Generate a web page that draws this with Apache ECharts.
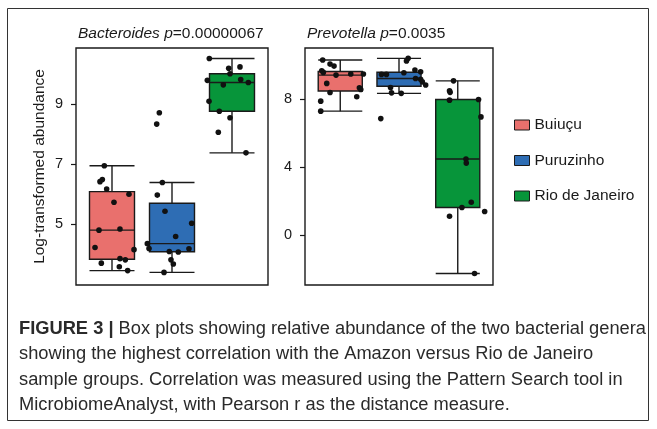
<!DOCTYPE html>
<html>
<head>
<meta charset="utf-8">
<script src="https://cdn.jsdelivr.net/npm/echarts@6/dist/echarts.min.js"></script>
<style>
html,body{margin:0;padding:0;background:#fff;}
#chart{width:657px;height:429px;}
</style>
</head>
<body>
<div id="chart"></div>
<script>
// ---------- data ----------
const groups = ['Buiuçu', 'Puruzinho', 'Rio de Janeiro'];
const panelTitles = ['Bacteroides', 'Prevotella'];
const pValues = ['0.00000067', '0.0035'];
const yAxisName = 'Log-transformed abundance';
const bacteroidesTicks = [5, 7, 9];
const prevotellaTicks = [0, 4, 8];

// Bacteroides values per group (and horizontal jitter offsets)
const bacBuiucu = [6.94, 6.41, 6.48, 6.16, 5.99, 5.72, 4.79, 4.83, 4.21, 4.14, 3.84, 3.80, 3.69, 3.57, 3.44];
const bacBuiucuJit = [-0.128, -0.20, -0.161, -0.089, 0.283, 0.033, -0.217, 0.133, -0.283, 0.367, 0.133, 0.222, -0.178, 0.122, 0.261];
const bacPuruzinho = [8.71, 8.33, 6.38, 5.96, 5.42, 5.02, 4.58, 4.34, 4.18, 4.08, 4.06, 4.17, 3.80, 3.66, 3.38];
const bacPuruzinhoJit = [-0.211, -0.255, -0.161, -0.245, -0.117, 0.328, 0.061, -0.411, -0.383, -0.045, 0.105, 0.283, -0.017, 0.022, -0.133];
const bacRio = [10.52, 10.19, 10.24, 10.01, 9.79, 9.82, 9.72, 9.64, 9.09, 8.76, 8.54, 8.06, 7.37];
const bacRioJit = [-0.378, -0.055, 0.133, -0.033, -0.411, 0.145, 0.272, -0.145, -0.383, -0.211, -0.033, -0.228, 0.233];

// Prevotella values per group
const prevBuiucu = [10.33, 10.09, 9.97, 9.70, 9.60, 9.44, 9.50, 9.50, 8.95, 8.41, 8.69, 8.59, 8.16, 7.90, 7.31];
const prevBuiucuJit = [-0.299, -0.174, -0.106, -0.315, -0.288, -0.072, 0.179, 0.394, -0.230, -0.174, 0.326, 0.349, 0.281, -0.332, -0.332];
const prevPuruzinho = [10.43, 10.27, 9.58, 9.74, 9.64, 9.48, 9.48, 9.24, 9.19, 9.04, 8.85, 8.71, 8.39, 8.36, 6.87];
const prevPuruzinhoJit = [0.156, 0.127, 0.083, 0.271, 0.368, -0.299, -0.214, 0.282, 0.368, 0.397, 0.454, -0.144, -0.127, 0.038, -0.310];
const prevRio = [9.10, 8.51, 8.42, 7.96, 8.00, 6.97, 4.48, 4.24, 1.93, 1.62, 1.38, 1.10, -2.28];
const prevRioJit = [-0.072, -0.140, -0.130, -0.140, 0.354, 0.395, 0.140, 0.145, 0.230, 0.071, 0.458, -0.140, 0.286];

const captionBold = 'FIGURE 3 |';
const captionLines = [
  ' Box plots showing relative abundance of the two bacterial genera',
  'showing the highest correlation with the Amazon versus Rio de Janeiro',
  'sample groups. Correlation was measured using the Pattern Search tool in',
  'MicrobiomeAnalyst, with Pearson r as the distance measure.'
];

// ---------- styles ----------
const fills = ['#E9706D', '#2E6DB4', '#07953A'];
const ink = '#1a1a1a';
const FONT = '"Liberation Sans", Arial, sans-serif';

// ---------- helpers ----------
function quantile(sorted, p) {
  const h = (sorted.length - 1) * p;
  const lo = Math.floor(h);
  const hi = Math.min(lo + 1, sorted.length - 1);
  return sorted[lo] + (h - lo) * (sorted[hi] - sorted[lo]);
}
function boxStats(values) {
  const s = values.slice().sort((a, b) => a - b);
  const q1 = quantile(s, 0.25), md = quantile(s, 0.5), q3 = quantile(s, 0.75);
  const iqr = q3 - q1;
  const lo = Math.min(...s.filter(v => v >= q1 - 1.5 * iqr));
  const hi = Math.max(...s.filter(v => v <= q3 + 1.5 * iqr));
  return [lo, q1, md, q3, hi];
}
function boxRender(params, api) {
  const c = api.value(0);
  const lo = api.value(1), q1 = api.value(2), md = api.value(3), q3 = api.value(4), hi = api.value(5);
  const xl = api.coord([c - 0.375, 0])[0];
  const xr = api.coord([c + 0.375, 0])[0];
  const xc = api.coord([c, 0])[0];
  const y = v => api.coord([c, v])[1];
  const st = { stroke: ink, lineWidth: 1.4 };
  return {
    type: 'group',
    children: [
      { type: 'line', shape: { x1: xc, y1: y(lo), x2: xc, y2: y(q1) }, style: st },
      { type: 'line', shape: { x1: xc, y1: y(q3), x2: xc, y2: y(hi) }, style: st },
      { type: 'line', shape: { x1: xl, y1: y(lo), x2: xr, y2: y(lo) }, style: st },
      { type: 'line', shape: { x1: xl, y1: y(hi), x2: xr, y2: y(hi) }, style: st },
      { type: 'rect', shape: { x: xl, y: y(q3), width: xr - xl, height: y(q1) - y(q3) },
        style: { fill: api.visual('color'), stroke: ink, lineWidth: 1.4 } },
      { type: 'line', shape: { x1: xl, y1: y(md), x2: xr, y2: y(md) }, style: st }
    ]
  };
}

const panels = [
  { values: [bacBuiucu, bacPuruzinho, bacRio], jit: [bacBuiucuJit, bacPuruzinhoJit, bacRioJit] },
  { values: [prevBuiucu, prevPuruzinho, prevRio], jit: [prevBuiucuJit, prevPuruzinhoJit, prevRioJit] }
];

const series = [];
panels.forEach((p, pi) => {
  p.values.forEach((vals, gi) => {
    series.push({
      type: 'custom', name: groups[gi], xAxisIndex: pi, yAxisIndex: pi,
      itemStyle: { color: fills[gi] }, renderItem: boxRender, z: 2, silent: true,
      encode: { x: 0, y: [1, 2, 3, 4, 5] },
      data: [[gi + 1].concat(boxStats(vals))]
    });
  });
  const pts = [];
  p.values.forEach((vals, gi) => vals.forEach((v, k) => pts.push([gi + 1 + p.jit[gi][k], v])));
  series.push({
    type: 'scatter', xAxisIndex: pi, yAxisIndex: pi, data: pts, symbolSize: 5.6,
    itemStyle: { color: '#111', opacity: 1 }, z: 5, silent: true
  });
});

const grids = [
  { left: 76, top: 48, width: 192, height: 237 },
  { left: 305, top: 48, width: 188, height: 237 }
].map(g => Object.assign(g, { show: true, borderColor: ink, borderWidth: 1.4, backgroundColor: 'transparent', containLabel: false }));

function xAx(i) {
  return { type: 'value', gridIndex: i, min: 0.4, max: 3.6, show: false };
}
function yAx(i, min, max, ticks, name) {
  return {
    type: 'value', gridIndex: i, min: min, max: max,
    axisLine: { show: false }, splitLine: { show: false },
    axisTick: { show: true, length: 5, inside: false, customValues: ticks, lineStyle: { color: ink, width: 1.2 } },
    axisLabel: { customValues: ticks, margin: 13, fontSize: 14.5, color: ink, fontFamily: FONT },
    name: name || '', nameLocation: 'middle', nameGap: 28,
    nameTextStyle: { fontSize: 15.5, color: ink, fontFamily: FONT }
  };
}

const option = {
  animation: false,
  textStyle: { fontFamily: FONT },
  title: panelTitles.map((t, i) => ({
    text: '{i|' + t + '} {i|p}=' + pValues[i],
    left: i === 0 ? 73 : 302, top: 21,
    textStyle: { fontSize: 15.5, fontWeight: 'normal', color: ink, fontFamily: FONT,
      rich: { i: { fontStyle: 'italic', fontSize: 15.5, color: ink, fontFamily: FONT } } }
  })),
  legend: {
    orient: 'vertical', left: 509, top: 112,
    itemWidth: 15, itemHeight: 10, itemGap: 19.5,
    icon: 'rect',
    textStyle: { fontSize: 15.5, color: ink, fontFamily: FONT },
    itemStyle: { borderColor: ink, borderWidth: 1 },
    data: groups.map((g, i) => ({ name: g, itemStyle: { color: fills[i], borderColor: ink, borderWidth: 1 } })),
    selectedMode: false
  },
  grid: grids,
  xAxis: [xAx(0), xAx(1)],
  yAxis: [yAx(0, 2.96, 10.87, bacteroidesTicks, yAxisName), yAx(1, -2.96, 11.04, prevotellaTicks)],
  series: series,
  graphic: [
    { type: 'rect', shape: { x: 7.5, y: 8.5, width: 641, height: 412 },
      style: { fill: 'none', stroke: '#333', lineWidth: 1 }, silent: true },
    { type: 'text', left: 19, top: 316,
      style: {
        text: '{b|' + captionBold + '}' + captionLines.join('\n'),
        fontSize: 18.3, fontFamily: FONT, fill: '#2a2a2a', lineHeight: 25.5,
        rich: { b: { fontWeight: 'bold', fontSize: 18.3, fontFamily: FONT, fill: '#2a2a2a', lineHeight: 25.5 } }
      }, silent: true }
  ]
};

const chart = echarts.init(document.getElementById('chart'), null, { renderer: 'canvas' });
chart.setOption(option);
</script>
</body>
</html>
